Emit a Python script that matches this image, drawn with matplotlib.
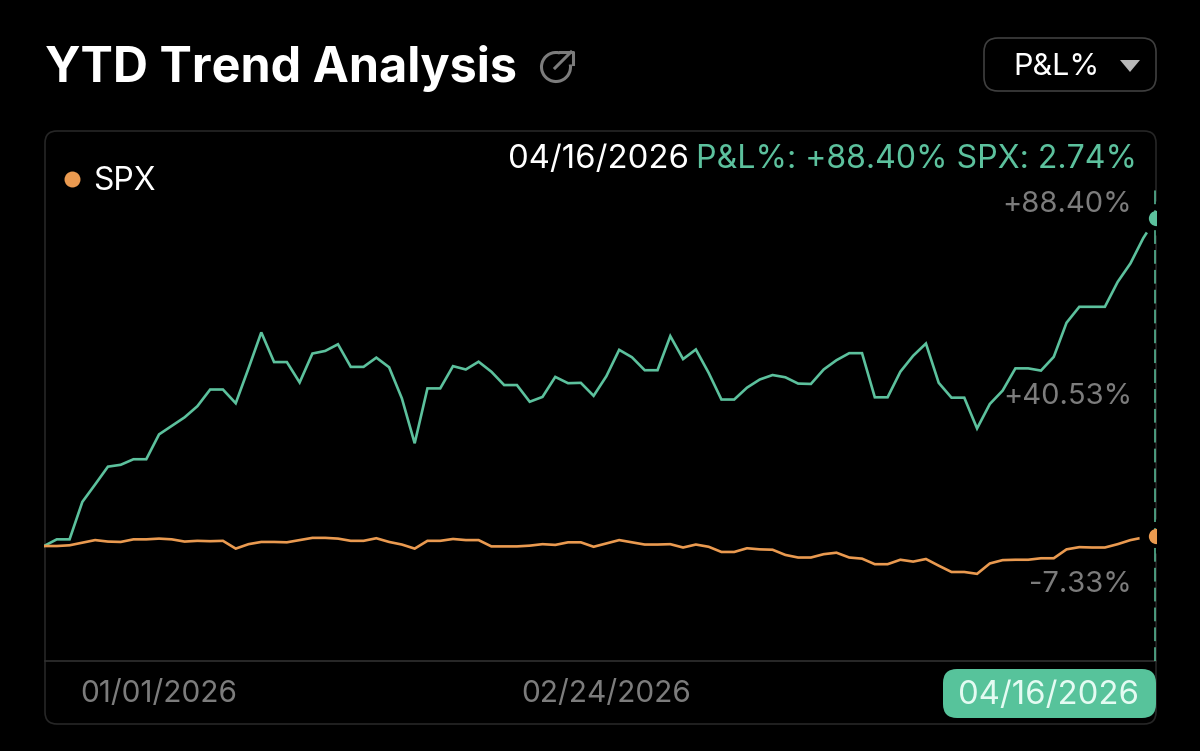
import numpy as np
import matplotlib
matplotlib.use('Agg')
import matplotlib.pyplot as plt
from matplotlib.patches import FancyBboxPatch, Arc, Polygon

plt.rcParams['font.family'] = ['Inter', 'DejaVu Sans']

# values, one point per trading day
pnl_pct = [0.0, 1.8, 1.8, 11.9, 16.6, 21.4, 21.9, 23.4, 23.4, 30.1,
           32.4, 34.7, 37.7, 42.2, 42.2, 38.5, 47.9, 57.6, 49.6, 49.6,
           44.1, 51.9, 52.6, 54.4, 48.3, 48.3, 50.8, 48.2, 39.8, 27.7,
           42.5, 42.5, 48.5, 47.6, 49.7, 47.0, 43.4, 43.4, 38.9, 40.2,
           45.6, 43.9, 44.0, 40.5, 45.8, 52.9, 50.9, 47.4, 47.4, 56.6,
           50.4, 53.0, 46.7, 39.5, 39.5, 42.7, 44.9, 46.1, 45.5, 43.8,
           43.7, 47.6, 50.1, 52.0, 52.0, 40.1, 40.1, 47.0, 51.3, 54.6,
           44.0, 40.0, 40.0, 31.7, 38.3, 41.9, 47.9, 47.9, 47.3, 51.0,
           60.2, 64.5, 64.5, 64.5, 71.2, 76.2, 83.0, 88.40]
spx_pct = [0.0, 0.0, 0.2, 0.9, 1.6, 1.2, 1.1, 1.8, 1.8, 2.0,
           1.8, 1.2, 1.4, 1.3, 1.4, -0.7, 0.5, 1.1, 1.1, 1.0,
           1.6, 2.2, 2.2, 2.0, 1.4, 1.4, 2.1, 1.1, 0.4, -0.7,
           1.4, 1.4, 1.9, 1.6, 1.6, -0.1, -0.1, -0.1, 0.1, 0.5,
           0.3, 1.0, 1.0, -0.2, 0.7, 1.6, 1.0, 0.4, 0.4, 0.5,
           -0.4, 0.4, -0.2, -1.6, -1.6, -0.6, -0.9, -1.0, -2.4, -3.1,
           -3.1, -2.2, -1.8, -3.1, -3.4, -4.9, -4.9, -3.7, -4.2, -3.5,
           -5.3, -7.0, -7.0, -7.5, -4.7, -3.8, -3.7, -3.7, -3.3, -3.3,
           -0.9, -0.3, -0.4, -0.4, 0.5, 1.6, 2.3, 2.74]
date_labels = ['01/01/2026', '02/24/2026', '04/16/2026']
level_labels = ['+88.40%', '+40.53%', '-7.33%']

GREEN = '#5cc19d'
ORANGE = '#ea9a50'
GRAY = '#7c7c7c'
BORDER = '#262626'

W, H = 1200, 751
fig = plt.figure(figsize=(12, 7.51), dpi=100, facecolor='black')

# overlay in pixels for the card, title and other chrome
bg = fig.add_axes([0, 0, 1, 1], zorder=0)
bg.set_xlim(0, W)
bg.set_ylim(H, 0)
bg.axis('off')

card = FancyBboxPatch((45, 131), 1111, 593, boxstyle='round,pad=0,rounding_size=12',
                      fc='black', ec=BORDER, lw=1.2)
bg.add_patch(card)
bg.plot([45, 1156], [661, 661], color='#303030', lw=1.2)

# chart area
ax = fig.add_axes([44 / W, 1 - 661 / H, 1112 / W, 530 / H], zorder=1)
ax.set_facecolor('none')
ax.set_xlim(0, 87)
ax.set_ylim(-31.0, 111.9)
ax.axis('off')

days = np.arange(len(pnl_pct))
ax.plot(days, pnl_pct, color=GREEN, lw=1.9, solid_joinstyle='miter', zorder=2)
ax.plot(days, spx_pct, color=ORANGE, lw=1.9, solid_joinstyle='miter', zorder=2)

# black halo leaves a gap between line end and the dot
ax.plot(days[-1], pnl_pct[-1], 'o', ms=24.5, color='black', mew=0, zorder=3)
ax.plot(days[-1], spx_pct[-1], 'o', ms=24.5, color='black', mew=0, zorder=3)
ax.plot(days[-1], pnl_pct[-1], 'o', ms=11, color=GREEN, mew=0, zorder=5)
ax.plot(days[-1], spx_pct[-1], 'o', ms=11, color=ORANGE, mew=0, zorder=5)
ax.plot([days[-1] - 0.06] * 2, [-31.0, 97.3], color=GREEN, lw=1.1,
        dashes=(9, 4), zorder=4)

# title row
ov = fig.add_axes([0, 0, 1, 1], zorder=2)
ov.set_xlim(0, W)
ov.set_ylim(H, 0)
ov.axis('off')
ov.patch.set_alpha(0)

ov.text(45, 68, 'YTD Trend Analysis', color='white', fontsize=35, fontweight='bold',
        va='center', ha='left')
ov.add_patch(Arc((556, 67), 29, 29, theta1=-10, theta2=285, color=GRAY, lw=2.2))
ov.plot([555, 571], [68, 52], color=GRAY, lw=2.2)
ov.plot([560, 573, 573], [52, 52, 64], color=GRAY, lw=2.2)

ov.add_patch(FancyBboxPatch((984, 38), 172, 53, boxstyle='round,pad=0,rounding_size=14',
                            fc='none', ec='#3f3f3f', lw=1.2))
ov.text(1057, 67, 'P&L%', color='white', fontsize=22, va='center', ha='center')
ov.add_patch(Polygon([[1120, 60], [1140, 60], [1130, 72]], closed=True, fc='#b8b8b8', ec='none'))

# header readout
ov.text(689, 159, '04/16/2026', color='white', fontsize=23.7, va='center', ha='right')
ov.text(1137, 159, 'P&L%: +88.40% SPX: 2.74%', color=GREEN, fontsize=23.1, va='center', ha='right')

# legend
ov.plot(72, 179, 'o', ms=11.5, color=ORANGE, mew=0)
ov.text(93, 181, 'SPX', color='white', fontsize=23, va='center', ha='left')

# level labels
for label, py in zip(level_labels, [205, 396, 585]):
    ov.text(1132, py, label, color=GRAY, fontsize=21, va='center', ha='right')

# date labels
for label, cx in zip(date_labels[:2], [159, 606]):
    ov.text(cx, 694, label, color=GRAY, fontsize=21.5, va='center', ha='center')
ov.add_patch(FancyBboxPatch((943, 669), 213, 49, boxstyle='round,pad=0,rounding_size=14',
                            fc='#57c39b', ec='none'))
ov.text(1049, 695, date_labels[2], color='#e4fbf2', fontsize=23.7, va='center', ha='center')

fig.savefig('out.png', dpi=100, facecolor='black')
